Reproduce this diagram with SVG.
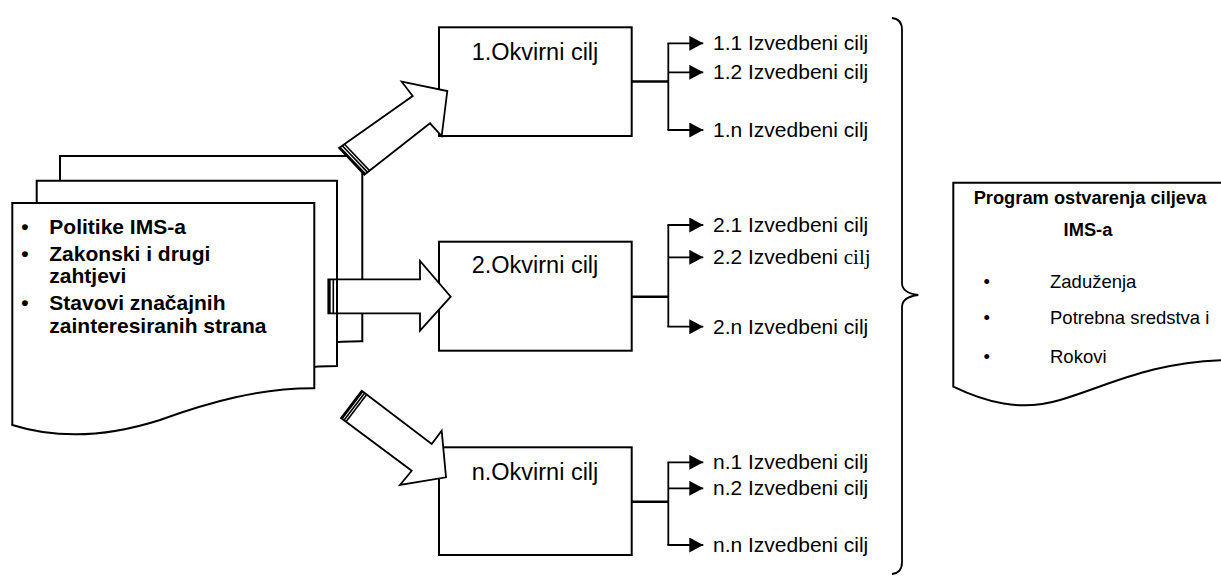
<svg xmlns="http://www.w3.org/2000/svg" width="1221" height="577" viewBox="0 0 1221 577">
<defs>
<marker id="ah" markerUnits="userSpaceOnUse" markerWidth="15" markerHeight="16" refX="14" refY="7.5" orient="auto" viewBox="0 0 15 16"><path d="M0,0 L14,7.5 L0,15 Z" fill="#000"/></marker>
</defs>
<style>
.ln{fill:none;stroke:#000;stroke-width:1.8}
.tr{fill:none;stroke:#000;stroke-width:2.6}
.box{fill:#fff;stroke:#000;stroke-width:2}
.doc{fill:#fff;stroke:#000;stroke-width:2}
.blk{fill:#fff;stroke:#000;stroke-width:1.8;stroke-linejoin:miter}
.st{stroke:#000;fill:none}
text{font-family:"Liberation Sans",Arial,sans-serif;fill:#000}
.ok{font-size:23.5px;text-anchor:middle}
.iz{font-size:21px}
.b{font-weight:bold;font-size:21px}
.r{font-size:18.5px}
.rb{font-weight:bold;font-size:18.3px;text-anchor:middle}
.bul{text-anchor:middle}
</style>
<rect width="1221" height="577" fill="#fff"/>

<g id="doc-inputs">
<path class="doc" d="M60,156 H362.3 V341.3 C307.7,341 257.7,355 207.7,373 C157.7,389 107.7,393 60,378 Z"/>
<path class="doc" d="M36.7,180.7 H337 V366 C284,366 234,380 184.4,397.7 C134.4,413.7 84.4,417.7 36.7,402.7 Z"/>
<path class="doc" d="M12.3,203 H314.3 V388.3 C260,388 210,402 160,420 C110,436 60,440 12.3,425 Z"/>
<text class="b bul" x="25" y="234">•</text>
<text class="b" x="49.3" y="234">Politike IMS-a</text>
<text class="b bul" x="25" y="261">•</text>
<text class="b" x="49.3" y="261">Zakonski i drugi</text>
<text class="b" x="49.3" y="283">zahtjevi</text>
<text class="b bul" x="25" y="310">•</text>
<text class="b" x="49.3" y="310">Stavovi značajnih</text>
<text class="b" x="49.3" y="333">zainteresiranih strana</text>
</g>

<g id="okvir-1">
<rect class="box" x="439" y="27.3" width="192.7" height="108.7"/>
<text class="ok" x="535" y="60">1.Okvirni cilj</text>
</g>
<g id="okvir-2">
<rect class="box" x="439" y="241.7" width="192.7" height="109"/>
<text class="ok" x="535" y="273">2.Okvirni cilj</text>
</g>
<g id="okvir-n">
<rect class="box" x="439" y="447.3" width="192.7" height="107.7"/>
<text class="ok" x="535" y="480">n.Okvirni cilj</text>
</g>

<g id="connectors">
<g id="block-arrow-1">
<polygon class="blk" points="339,148 412.7,96 401.7,81.7 447.3,91 441.7,136 430,123.3 364.3,174.7"/>
<line class="st" stroke-width="2.2" x1="339.8" y1="147.4" x2="365.1" y2="174.1"/>
<line class="st" stroke-width="1.6" x1="342.3" y1="145.7" x2="367.6" y2="172.4"/>
<line class="st" stroke-width="1.6" x1="344.5" y1="144.2" x2="369.8" y2="170.9"/>
</g>
<g id="block-arrow-2">
<polygon class="blk" points="328.3,279.3 420,279.3 420,261 450.7,296.7 420,330.7 420,313.3 328.3,313.3"/>
<line class="st" stroke-width="2.4" x1="329.5" y1="279.3" x2="329.5" y2="313.3"/>
<line class="st" stroke-width="1.6" x1="333.3" y1="279.3" x2="333.3" y2="313.3"/>
<line class="st" stroke-width="2" x1="337" y1="279.3" x2="337" y2="313.3"/>
</g>
<g id="block-arrow-3">
<polygon class="blk" points="361.7,390.7 431.7,444 441.7,430.7 446,477.3 400,485 411.7,470.7 341,418"/>
<line class="st" stroke-width="2.2" x1="362.5" y1="391.3" x2="341.8" y2="418.6"/>
<line class="st" stroke-width="1.6" x1="364.7" y1="393" x2="344" y2="420.3"/>
<line class="st" stroke-width="1.6" x1="366.7" y1="394.5" x2="346" y2="421.8"/>
</g>

<g id="branches-1">
<line class="tr" x1="631.7" y1="81.5" x2="668.3" y2="81.5"/>
<path class="ln" d="M668.3,43.3 V130"/>
<line class="ln" x1="667.4" y1="43.3" x2="703.3" y2="43.3" marker-end="url(#ah)"/>
<line class="ln" x1="668.3" y1="72.3" x2="703.3" y2="72.3" marker-end="url(#ah)"/>
<line class="ln" x1="667.4" y1="130" x2="703.3" y2="130" marker-end="url(#ah)"/>
</g>
<g id="branches-2">
<line class="tr" x1="631.7" y1="296.7" x2="668.3" y2="296.7"/>
<path class="ln" d="M668.3,225 V326.7"/>
<line class="ln" x1="667.4" y1="225" x2="703.3" y2="225" marker-end="url(#ah)"/>
<line class="ln" x1="668.3" y1="257.3" x2="703.3" y2="257.3" marker-end="url(#ah)"/>
<line class="ln" x1="667.4" y1="326.7" x2="703.3" y2="326.7" marker-end="url(#ah)"/>
</g>
<g id="branches-n">
<line class="tr" x1="631.7" y1="501.7" x2="668.3" y2="501.7"/>
<path class="ln" d="M668.3,462.3 V545"/>
<line class="ln" x1="667.4" y1="462.3" x2="703.3" y2="462.3" marker-end="url(#ah)"/>
<line class="ln" x1="668.3" y1="488.3" x2="703.3" y2="488.3" marker-end="url(#ah)"/>
<line class="ln" x1="667.4" y1="545" x2="703.3" y2="545" marker-end="url(#ah)"/>
</g>
</g>

<g id="izvedbeni-1">
<text class="iz" x="713" y="50">1.1 Izvedbeni cilj</text>
<text class="iz" x="713" y="79">1.2 Izvedbeni cilj</text>
<text class="iz" x="713" y="137">1.n Izvedbeni cilj</text>
</g>
<g id="izvedbeni-2">
<text class="iz" x="713" y="232">2.1 Izvedbeni cilj</text>
<text class="iz" x="713" y="264">2.2 Izvedbeni <tspan font-family="'Liberation Serif','Times New Roman',serif">cilj</tspan></text>
<text class="iz" x="713" y="333.5">2.n Izvedbeni cilj</text>
</g>
<g id="izvedbeni-n">
<text class="iz" x="713" y="469">n.1 Izvedbeni cilj</text>
<text class="iz" x="713" y="495">n.2 Izvedbeni cilj</text>
<text class="iz" x="713" y="552">n.n Izvedbeni cilj</text>
</g>

<g id="brace">
<path class="ln" d="M892,18 Q902,19 902,30 V283 Q902,293 918.3,295 Q902,297 902,307 V562 Q902,573 892,574"/>
</g>

<g id="program">
<path class="doc" d="M953.3,182.7 H1226 V360 C1150,362 1110,385 1060,400 C1020,412 985,402 953.3,386.7 Z"/>
<text class="rb" x="1090" y="204">Program ostvarenja ciljeva</text>
<text class="rb" x="1088" y="236">IMS-a</text>
<text class="r bul" x="986.7" y="287.5">•</text>
<text class="r" x="1050" y="287.5">Zaduženja</text>
<text class="r bul" x="986.7" y="324">•</text>
<text class="r" x="1050" y="324">Potrebna sredstva i</text>
<text class="r bul" x="986.7" y="362.5">•</text>
<text class="r" x="1050" y="362.5">Rokovi</text>
</g>
</svg>
